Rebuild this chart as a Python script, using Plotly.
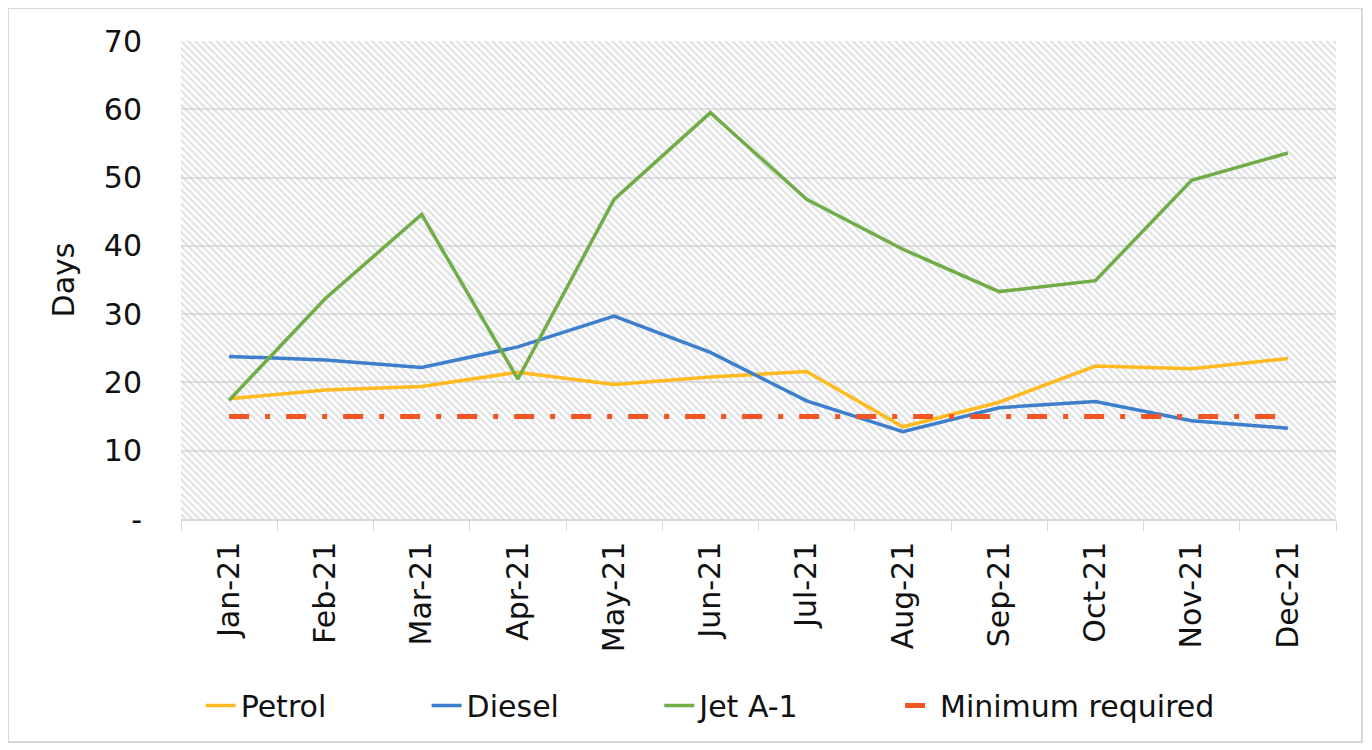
import plotly.graph_objects as go

# Months on the x axis
MONTHS = ["Jan-21", "Feb-21", "Mar-21", "Apr-21", "May-21", "Jun-21",
          "Jul-21", "Aug-21", "Sep-21", "Oct-21", "Nov-21", "Dec-21"]

# Days of cover per product
PETROL = [17.6, 18.9, 19.4, 21.5, 19.7, 20.8, 21.6, 13.5, 17.1, 22.4, 22.0, 23.5]
DIESEL = [23.8, 23.3, 22.2, 25.2, 29.7, 24.4, 17.3, 12.8, 16.3, 17.2, 14.4, 13.3]
JET_A1 = [17.4, 32.3, 44.6, 20.5, 46.8, 59.5, 46.8, 39.5, 33.3, 34.9, 49.6, 53.6]
MINIMUM = [15] * 12

# y axis
Y_MAX = 70
Y_TICKS = [0, 10, 20, 30, 40, 50, 60, 70]
Y_TICK_TEXT = ["-", "10", "20", "30", "40", "50", "60", "70"]

COLORS = {
    "Petrol": "#FFBA1F",
    "Diesel": "#3D7FCC",
    "Jet A-1": "#70AD47",
    "Minimum required": "#F05523",
}

FONT = "DejaVu Sans, Arial, sans-serif"
FONT_SIZE = 30

# non-breaking spaces widen the legend entries like the original layout
PAD = "\u00a0"
LEGEND_PAD = {"Petrol": 10, "Diesel": 10, "Jet A-1": 10}

fig = go.Figure()

# hatched plot background, drawn as full-height bars on the category axis
fig.add_trace(go.Bar(
    x=MONTHS,
    y=[Y_MAX] * len(MONTHS),
    width=1,
    marker=dict(
        color="rgba(0,0,0,0)",
        line=dict(width=0),
        pattern=dict(shape="\\", size=5, solidity=0.45,
                     fgcolor="#c0c3c6", bgcolor="rgba(0,0,0,0)"),
    ),
    showlegend=False,
    hoverinfo="skip",
))

for name, values in [("Petrol", PETROL), ("Diesel", DIESEL), ("Jet A-1", JET_A1)]:
    fig.add_trace(go.Scatter(
        x=MONTHS, y=values, name=name + PAD * LEGEND_PAD[name], mode="lines",
        line=dict(color=COLORS[name], width=3.5),
        hovertemplate=name + ": %{y:.1f} days<extra></extra>",
    ))

fig.add_trace(go.Scatter(
    x=MONTHS, y=MINIMUM, name="Minimum required", mode="lines",
    line=dict(color=COLORS["Minimum required"], width=5,
              dash="20px,16px,5px,16px"),
))

# light grey frame round the whole chart
fig.add_shape(
    type="rect", xref="paper", yref="paper",
    x0=-0.1498, x1=1.0225, y0=-0.4665, y1=1.069,
    line=dict(color="#d9d9d9", width=2), layer="below",
)

# the page body adds an 8px offset, so the figure is 8px smaller than the window
fig.update_layout(
    width=1364,
    height=742,
    margin=dict(l=173, r=36, t=33, b=231),
    paper_bgcolor="white",
    plot_bgcolor="white",
    font=dict(family=FONT, size=FONT_SIZE, color="#111111"),
    barmode="overlay",
    bargap=0,
    showlegend=True,
    legend=dict(
        orientation="h",
        x=0.017, xanchor="left",
        y=-0.39, yanchor="middle",
        font=dict(size=FONT_SIZE),
        traceorder="normal",
    ),
)

fig.update_xaxes(
    type="category",
    range=[-0.5, len(MONTHS) - 0.5],
    tickangle=-90,
    tickson="boundaries",
    ticks="outside",
    ticklen=10,
    tickcolor="#d9d9d9",
    showline=True,
    linecolor="#d9d9d9",
    linewidth=1.5,
    showgrid=False,
    tickfont=dict(size=FONT_SIZE),
    ticklabelstandoff=9,
)

fig.update_yaxes(
    range=[0, Y_MAX],
    tickvals=Y_TICKS,
    ticktext=Y_TICK_TEXT,
    showgrid=True,
    gridcolor="#e2e2e2",
    gridwidth=1.5,
    zeroline=False,
    showline=False,
    tickfont=dict(size=FONT_SIZE),
    ticklabelstandoff=38,
    title=dict(text="Days", font=dict(size=FONT_SIZE), standoff=20),
)

fig.write_html("out.html")
